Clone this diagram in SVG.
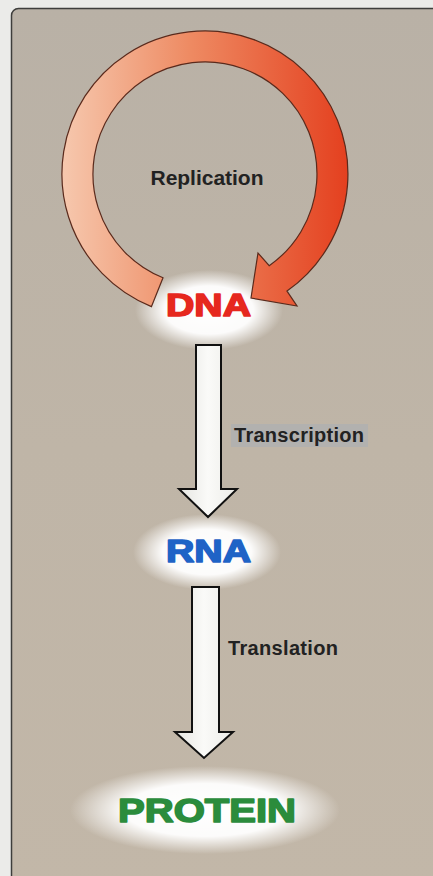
<svg xmlns="http://www.w3.org/2000/svg" width="433" height="876" viewBox="0 0 433 876">
<defs>
<linearGradient id="bg" x1="0" y1="0" x2="0" y2="1">
<stop offset="0" stop-color="#b9b1a6"/>
<stop offset="0.5" stop-color="#bfb5a7"/>
<stop offset="1" stop-color="#c2b7a8"/>
</linearGradient>
<linearGradient id="ring" x1="62" y1="0" x2="348" y2="0" gradientUnits="userSpaceOnUse">
<stop offset="0" stop-color="#f6c8ae"/>
<stop offset="0.45" stop-color="#ee8a62"/>
<stop offset="1" stop-color="#e4401f"/>
</linearGradient>
<linearGradient id="shaft" x1="0" y1="0" x2="1" y2="0">
<stop offset="0" stop-color="#e6e6e2"/>
<stop offset="0.5" stop-color="#fafaf8"/>
<stop offset="1" stop-color="#ecece8"/>
</linearGradient>
<radialGradient id="glow">
<stop offset="0" stop-color="#ffffff" stop-opacity="1"/>
<stop offset="0.6" stop-color="#ffffff" stop-opacity="0.95"/>
<stop offset="1" stop-color="#ffffff" stop-opacity="0"/>
</radialGradient>
<style>
.arrow{fill:url(#shaft);stroke:#111;stroke-width:2;stroke-linejoin:miter}
.lbl{font-family:"Liberation Sans",Arial,sans-serif;font-weight:bold;fill:#222;font-size:20px}
.big{font-family:"Liberation Sans",Arial,sans-serif;font-weight:bold;stroke-width:1.6;stroke-linejoin:round}
</style>
</defs>
<rect x="0" y="0" width="433" height="876" fill="#ebebe9"/>
<rect x="11.5" y="8.5" width="440" height="880" rx="7" fill="url(#bg)" stroke="#3e3e3c" stroke-width="1.5"/>

<g id="glows">
<ellipse cx="209" cy="310" rx="74" ry="40" fill="url(#glow)"/>
<ellipse cx="207" cy="552" rx="74" ry="38" fill="url(#glow)"/>
<ellipse cx="205" cy="810" rx="135" ry="44" fill="url(#glow)"/>
</g>

<g id="connectors">
<g id="replication">
<path d="M151.4,306.6 A143,143 0 1 1 287.0,291.1 L297,306 L251,298 L258,253 L269.2,265.7 A112,112 0 1 0 163.0,277.8 Z" fill="url(#ring)" stroke="#5a2a1c" stroke-width="1.2" stroke-linejoin="miter"/>
<text class="lbl" x="207" y="185" text-anchor="middle" style="font-size:21px" textLength="113">Replication</text>
</g>
<g id="transcription">
<path class="arrow" d="M196,345 L221,345 L221,489 L237,489 L208,517 L179,489 L196,489 Z"/>
<rect x="231" y="424" width="137" height="23" fill="#aeb0b2" opacity="0.75"/>
<text class="lbl" x="234" y="442" textLength="130">Transcription</text>
</g>
<g id="translation">
<path class="arrow" d="M192,587 L219,587 L219,732 L233,732 L204,758 L175,732 L192,732 Z"/>
<text class="lbl" x="228" y="655" textLength="110">Translation</text>
</g>
</g>

<g id="node-dna">
<text class="big" x="166" y="316" font-size="32" fill="#e6281e" stroke="#e6281e" textLength="85" lengthAdjust="spacingAndGlyphs">DNA</text>
</g>
<g id="node-rna">
<text class="big" x="166" y="562" font-size="32" fill="#1f63c6" stroke="#1f63c6" textLength="85" lengthAdjust="spacingAndGlyphs">RNA</text>
</g>
<g id="node-protein">
<text class="big" x="118" y="822" font-size="34" fill="#2b8c3c" stroke="#2b8c3c" textLength="178" lengthAdjust="spacingAndGlyphs">PROTEIN</text>
</g>
</svg>
